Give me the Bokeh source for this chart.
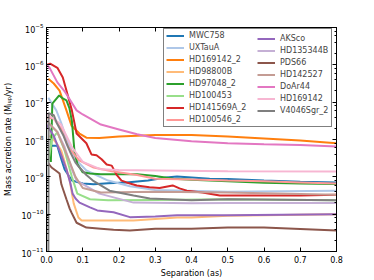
from bokeh.plotting import figure
from bokeh.models import Legend, LegendItem, LinearAxis, LogAxis, PrintfTickFormatter, FixedTicker
from bokeh.embed import file_html
from bokeh.resources import INLINE

# log10 of mass accretion rate (M_Jup/yr) vs separation (as)
names = ["MWC758", "UXTauA", "HD169142_2", "HD98800B", "HD97048_2", "HD100453",
         "HD141569A_2", "HD100546_2", "AKSco", "HD135344B", "PDS66", "HD142527",
         "DoAr44", "HD169142", "V4046Sgr_2"]
colors = ["#1f77b4", "#aec7e8", "#ff7f0e", "#ffbb78", "#2ca02c", "#98df8a",
          "#d62728", "#ff9896", "#9467bd", "#c5b0d5", "#8c564b", "#c49c94",
          "#e377c2", "#f7b6d2", "#7f7f7f"]

mwc758_x = [0.012, 0.03, 0.04, 0.05, 0.07, 0.1, 0.13, 0.17, 0.22, 0.28, 0.33, 0.36, 0.45, 0.5, 0.6, 0.7, 0.8]
mwc758_y = [-8.17, -8.17, -8.5, -8.8, -9.1, -9.18, -9.2, -9.17, -9.15, -9.1, -9.02, -8.99, -9.05, -9.06, -9.1, -9.13, -9.15]

uxtaua_x = [0.005, 0.027, 0.04, 0.055, 0.075, 0.083, 0.11, 0.17, 0.23, 0.3, 0.5, 0.8]
uxtaua_y = [-6.88, -7.22, -7.54, -7.97, -8.42, -8.56, -8.83, -9.1, -9.25, -9.35, -9.4, -9.37]

hd169142_2_x = [0.005, 0.02, 0.036, 0.055, 0.069, 0.091, 0.11, 0.146, 0.2, 0.3, 0.4, 0.5, 0.6, 0.7, 0.8]
hd169142_2_y = [-6.37, -6.5, -6.69, -7.22, -7.63, -7.84, -7.95, -7.96, -7.92, -7.88, -7.88, -7.92, -7.97, -8.03, -8.1]

hd98800b_x = [0.008, 0.015, 0.028, 0.041, 0.05, 0.064, 0.075, 0.088, 0.097, 0.11, 0.177, 0.24, 0.36, 0.4, 0.5, 0.8]
hd98800b_y = [-7.9, -7.95, -8.1, -8.3, -8.6, -9.1, -9.71, -10.09, -10.17, -10.17, -10.17, -10.17, -10.09, -10.09, -10.04, -10.0]

hd97048_2_x = [0.012, 0.016, 0.035, 0.045, 0.055, 0.063, 0.07, 0.077, 0.085, 0.1, 0.12, 0.15, 0.25, 0.3, 0.35, 0.4, 0.5, 0.6, 0.7, 0.8]
hd97048_2_y = [-8.6, -7.04, -6.82, -6.9, -6.95, -7.15, -7.5, -8.3, -8.65, -8.88, -8.91, -8.93, -8.93, -8.98, -9.05, -9.08, -9.12, -9.16, -9.18, -9.19]

hd100453_x = [0.005, 0.015, 0.03, 0.05, 0.07, 0.085, 0.12, 0.17, 0.3, 0.5, 0.8]
hd100453_y = [-8.6, -8.0, -7.8, -8.3, -9.0, -9.45, -9.6, -9.63, -9.62, -9.6, -9.63]

hd141569a_2_x = [0.0, 0.01, 0.03, 0.045, 0.055, 0.07, 0.083, 0.11, 0.124, 0.138, 0.152, 0.166, 0.18, 0.193,
                 0.207, 0.221, 0.249, 0.284, 0.312, 0.348, 0.367, 0.387, 0.43, 0.478, 0.5, 0.6, 0.7, 0.8]
hd141569a_2_y = [-6.0, -5.97, -6.08, -6.34, -6.69, -7.22, -7.84, -8.1, -8.4, -8.42, -8.53, -8.67, -8.7, -8.94,
                 -9.1, -9.15, -9.23, -9.28, -9.3, -9.23, -9.31, -9.37, -9.42, -9.5, -9.5, -9.5, -9.5, -9.48]

hd100546_2_x = [0.0, 0.02, 0.04, 0.06, 0.09, 0.13, 0.18, 0.25, 0.3, 0.4, 0.5, 0.6, 0.7, 0.8]
hd100546_2_y = [-7.41, -7.44, -7.7, -8.2, -8.56, -8.75, -8.85, -8.95, -9.05, -9.07, -9.1, -9.12, -9.15, -9.18]

aksco_x = [0.0, 0.02, 0.04, 0.055, 0.066, 0.072, 0.08, 0.091, 0.12, 0.14, 0.185, 0.23, 0.3, 0.36, 0.5, 0.8]
aksco_y = [-7.6, -7.9, -8.4, -8.8, -9.18, -9.45, -9.58, -9.69, -9.82, -9.9, -9.95, -10.08, -10.06, -10.03, -10.03, -10.0]

hd135344b_x = [0.0, 0.03, 0.05, 0.07, 0.083, 0.146, 0.24, 0.4, 0.5, 0.8]
hd135344b_y = [-7.5, -7.8, -8.2, -8.8, -9.1, -9.45, -9.69, -9.71, -9.7, -9.7]

pds66_x = [0.005, 0.014, 0.028, 0.036, 0.041, 0.055, 0.064, 0.069, 0.083, 0.11, 0.15, 0.185, 0.23, 0.3, 0.4, 0.5, 0.6, 0.7, 0.8]
pds66_y = [-8.64, -8.75, -8.85, -8.91, -9.2, -9.6, -9.85, -9.96, -10.23, -10.36, -10.39, -10.42, -10.44, -10.39, -10.39, -10.36, -10.36, -10.4, -10.44]

hd142527_x = [0.0, 0.03, 0.06, 0.08, 0.1, 0.15, 0.3, 0.5, 0.8]
hd142527_y = [-7.5, -7.8, -8.5, -9.0, -9.3, -9.42, -9.4, -9.42, -9.48]

doar44_x = [0.0, 0.008, 0.03, 0.05, 0.083, 0.1, 0.15, 0.2, 0.25, 0.3, 0.4, 0.5, 0.6, 0.7, 0.8]
doar44_y = [-6.0, -6.07, -6.47, -6.71, -7.22, -7.33, -7.6, -7.73, -7.86, -7.96, -8.05, -8.1, -8.13, -8.15, -8.19]

hd169142_x = [0.0, 0.04, 0.07, 0.1, 0.15, 0.2, 0.3, 0.5, 0.8]
hd169142_y = [-7.3, -7.6, -8.2, -8.6, -8.8, -8.82, -8.83, -8.85, -8.86]

v4046sgr_2_x = [0.005, 0.006, 0.008, 0.02, 0.028, 0.047, 0.055, 0.066, 0.08, 0.091, 0.11, 0.128, 0.174, 0.24, 0.285, 0.4, 0.5, 0.8]
v4046sgr_2_y = [-12.0, -7.3, -7.3, -7.35, -7.55, -7.9, -8.1, -8.35, -8.62, -8.75, -8.95, -9.1, -9.37, -9.5, -9.58, -9.63, -9.6, -9.63]

series = [(mwc758_x, mwc758_y), (uxtaua_x, uxtaua_y), (hd169142_2_x, hd169142_2_y),
          (hd98800b_x, hd98800b_y), (hd97048_2_x, hd97048_2_y), (hd100453_x, hd100453_y),
          (hd141569a_2_x, hd141569a_2_y), (hd100546_2_x, hd100546_2_y), (aksco_x, aksco_y),
          (hd135344b_x, hd135344b_y), (pds66_x, pds66_y), (hd142527_x, hd142527_y),
          (doar44_x, doar44_y), (hd169142_x, hd169142_y), (v4046sgr_2_x, v4046sgr_2_y)]

x_ticks = [0.0, 0.1, 0.2, 0.3, 0.4, 0.5, 0.6, 0.7, 0.8]

FONT = "DejaVu Sans"

p = figure(frame_width=290, frame_height=224, y_axis_type="log",
           x_range=(0.0, 0.8), y_range=(1e-11, 1e-5),
           output_backend="svg", toolbar_location=None,
           min_border_left=39, min_border_top=27, min_border_right=10, min_border_bottom=24)
p.background_fill_color = "white"
p.border_fill_color = "white"
p.outline_line_color = "black"
p.grid.visible = False

items = []
for name, col, (xs, ys) in zip(names, colors, series):
    r = p.line(xs, [10 ** v for v in ys], line_color=col, line_width=2)
    items.append(LegendItem(label=name, renderers=[r]))

for ax in p.xaxis:
    ax.ticker = FixedTicker(ticks=x_ticks)
    ax.formatter = PrintfTickFormatter(format="%.1f")
    ax.axis_label = "Separation (as)"
for ax in p.yaxis:
    ax.axis_label = "Mass accretion rate (M\u2c7c\u1d64\u209a/yr)"

for ax in list(p.xaxis) + list(p.yaxis):
    ax.major_tick_in = 4
    ax.major_tick_out = 0
    ax.minor_tick_in = 2
    ax.minor_tick_out = 0
    ax.major_label_text_font = FONT
    ax.major_label_text_font_size = "8px"
    ax.major_label_text_color = "black"
    ax.axis_label_text_font = FONT
    ax.axis_label_text_font_size = "8px"
    ax.axis_label_text_font_style = "normal"
    ax.axis_label_text_color = "black"
    ax.axis_line_color = "black"
    ax.major_label_standoff = 3
    ax.axis_label_standoff = 2
for ax in p.xaxis:
    ax.minor_tick_line_color = None
    ax.major_label_standoff = 4
    ax.axis_label_standoff = 3
for ax in p.yaxis:
    ax.axis_label_standoff = 6

top = LinearAxis(ticker=FixedTicker(ticks=x_ticks), major_label_text_color=None,
                 major_tick_in=4, major_tick_out=0, minor_tick_line_color=None,
                 major_label_standoff=0, major_label_text_font_size="4px")
right = LogAxis(major_label_text_color=None, major_tick_in=4, major_tick_out=0,
                minor_tick_in=2, minor_tick_out=0, major_label_standoff=0,
                major_label_text_font_size="4px")
p.add_layout(top, "above")
p.add_layout(right, "right")

leg_common = dict(label_text_font=FONT, label_text_font_size="8px",
                  glyph_height=9, glyph_width=18, label_height=9,
                  spacing=3, padding=2, margin=0, label_standoff=5)
legend1 = Legend(items=items[:8], location=(117, 124), label_width=140,
                 border_line_color="black", border_line_width=1,
                 background_fill_color="white", background_fill_alpha=1.0, **leg_common)
legend2 = Legend(items=items[8:], location=(211, 136),
                 border_line_color=None, background_fill_alpha=0.0, **leg_common)
p.add_layout(legend1, "center")
p.add_layout(legend2, "center")

open("out.html", "w").write(file_html(p, INLINE))
